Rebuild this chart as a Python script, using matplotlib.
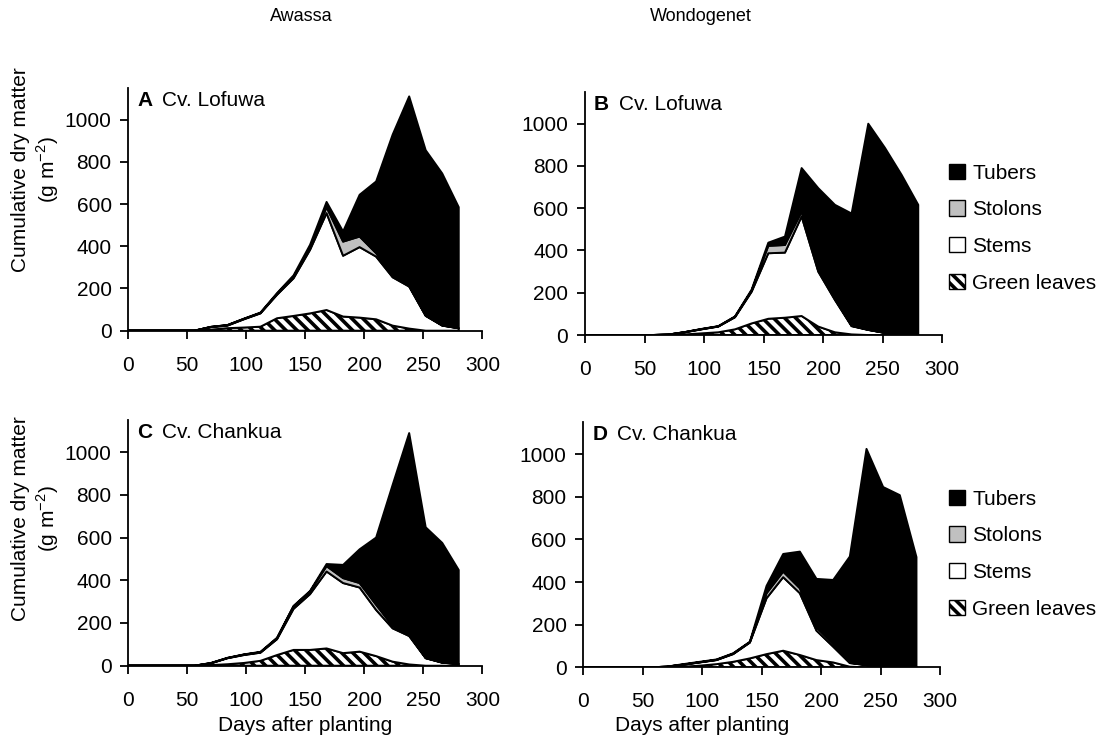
import matplotlib
matplotlib.use("Agg")
import matplotlib.pyplot as plt
from matplotlib.patches import Patch

plt.rcParams["font.family"] = ["Liberation Sans", "DejaVu Sans"]
plt.rcParams["hatch.linewidth"] = 2.6

days = [0, 14, 28, 42, 56, 70, 84, 98, 112, 126, 140, 154, 168, 182, 196, 210, 224, 238, 252, 266, 280]

# A: Awassa, Cv. Lofuwa
a_leaves  = [0, 0, 0, 0, 0, 5, 12, 15, 19, 59, 70, 82, 98, 67, 62, 54, 24, 10, 0, 0, 0]
a_stems   = [0, 0, 0, 0, 0, 12, 12, 39, 63, 111, 178, 301, 459, 288, 334, 297, 229, 199, 70, 24, 11]
a_stolons = [0, 0, 0, 0, 0, 1, 2, 2, 2, 4, 6, 8, 28, 67, 50, 16, 11, 4, 2, 1, 1]
a_tubers  = [0, 0, 0, 0, 0, 0, 1, 1, 2, 4, 8, 16, 25, 48, 198, 340, 665, 897, 783, 720, 573]

# B: Wondogenet, Cv. Lofuwa
b_leaves  = [0, 0, 0, 0, 0, 1, 3, 8, 13, 27, 55, 77, 82, 90, 40, 13, 3, 0, 0, 0, 0]
b_stems   = [0, 0, 0, 0, 0, 1, 10, 19, 27, 57, 150, 310, 308, 471, 260, 153, 39, 24, 10, 3, 0]
b_stolons = [0, 0, 0, 0, 0, 0, 1, 1, 1, 2, 5, 35, 36, 23, 12, 6, 2, 1, 0, 0, 0]
b_tubers  = [0, 0, 0, 0, 0, 0, 0, 1, 1, 2, 5, 15, 40, 206, 383, 444, 531, 975, 876, 755, 616]

# C: Awassa, Cv. Chankua
c_leaves  = [0, 0, 0, 0, 0, 3, 7, 13, 23, 50, 74, 74, 81, 59, 66, 45, 19, 6, 0, 0, 0]
c_stems   = [0, 0, 0, 0, 0, 8, 28, 37, 38, 74, 192, 261, 360, 328, 300, 216, 156, 133, 35, 14, 8]
c_stolons = [0, 0, 0, 0, 0, 1, 1, 2, 2, 4, 11, 12, 25, 23, 21, 24, 11, 5, 1, 1, 0]
c_tubers  = [0, 0, 0, 0, 0, 1, 1, 1, 2, 3, 3, 3, 10, 62, 158, 315, 661, 945, 612, 560, 440]

# D: Wondogenet, Cv. Chankua
d_leaves  = [0, 0, 0, 0, 0, 0, 3, 8, 15, 26, 42, 62, 78, 58, 34, 23, 3, 0, 0, 0, 0]
d_stems   = [0, 0, 0, 0, 0, 3, 9, 15, 19, 36, 74, 262, 345, 290, 138, 74, 17, 10, 0, 0, 0]
d_stolons = [0, 0, 0, 0, 0, 0, 1, 1, 1, 2, 2, 23, 26, 23, 15, 13, 2, 1, 1, 0, 0]
d_tubers  = [0, 0, 0, 0, 0, 0, 2, 2, 2, 2, 2, 35, 83, 172, 228, 300, 498, 1014, 845, 808, 517]

parts = ["Green leaves", "Stems", "Stolons", "Tubers"]
fills = ["white", "white", "#c0c0c0", "black"]
hatches = ["\\\\\\", "", "", ""]

fig = plt.figure(figsize=(11.15, 7.36), dpi=100)

panels = [
    ([0.1151, 0.5507, 0.3175, 0.3298], "A", "Cv. Lofuwa", [a_leaves, a_stems, a_stolons, a_tubers]),
    ([0.5247, 0.5448, 0.3202, 0.3302], "B", "Cv. Lofuwa", [b_leaves, b_stems, b_stolons, b_tubers]),
    ([0.1151, 0.0955, 0.3175, 0.3338], "C", "Cv. Chankua", [c_leaves, c_stems, c_stolons, c_tubers]),
    ([0.5231, 0.0933, 0.3202, 0.3330], "D", "Cv. Chankua", [d_leaves, d_stems, d_stolons, d_tubers]),
]

for rect, letter, cultivar, layers in panels:
    ax = fig.add_axes(rect)
    polys = ax.stackplot(days, *layers, colors=fills, edgecolor="black", linewidth=1.4)
    for p, h in zip(polys, hatches):
        p.set_hatch(h)
    ax.set_xlim(0, 300)
    ax.set_ylim(0, 1150)
    ax.set_xticks(range(0, 301, 50))
    ax.set_yticks(range(0, 1001, 200))
    for s in ["top", "right"]:
        ax.spines[s].set_visible(False)
    for s in ["left", "bottom"]:
        ax.spines[s].set_linewidth(1.3)
    ax.tick_params(axis="x", direction="out", length=6, width=1.3, pad=12, labelsize=15)
    ax.tick_params(axis="y", direction="out", length=6, width=1.3, pad=6, labelsize=15)
    ax.text(0.025, 0.95, letter, transform=ax.transAxes, fontsize=15, fontweight="bold",
            ha="left", va="center")
    ax.text(0.095, 0.95, cultivar, transform=ax.transAxes, fontsize=15, ha="left", va="center")

fig.text(0.27, 0.978, "Awassa", fontsize=13, ha="center", va="center")
fig.text(0.629, 0.978, "Wondogenet", fontsize=13, ha="center", va="center")

for y in [0.77, 0.295]:
    fig.text(0.018, y, "Cumulative dry matter", rotation=90, fontsize=15, ha="center", va="center")
    fig.text(0.043, y, r"(g m$^{\mathregular{-2}}$)", rotation=90, fontsize=15, ha="center", va="center")

fig.text(0.274, 0.014, "Days after planting", fontsize=15, ha="center", va="center")
fig.text(0.630, 0.014, "Days after planting", fontsize=15, ha="center", va="center")

handles = [Patch(facecolor=f, edgecolor="black", hatch=h, linewidth=1) for f, h in zip(fills, hatches)][::-1]
labels = parts[::-1]
for top in [0.792, 0.349]:
    fig.legend(handles, labels, loc="upper left", bbox_to_anchor=(0.842, top), frameon=False,
               fontsize=15, handlelength=0.75, handleheight=0.75, handletextpad=0.35,
               labelspacing=0.85, borderpad=0)

fig.savefig("out.png", dpi=100)
